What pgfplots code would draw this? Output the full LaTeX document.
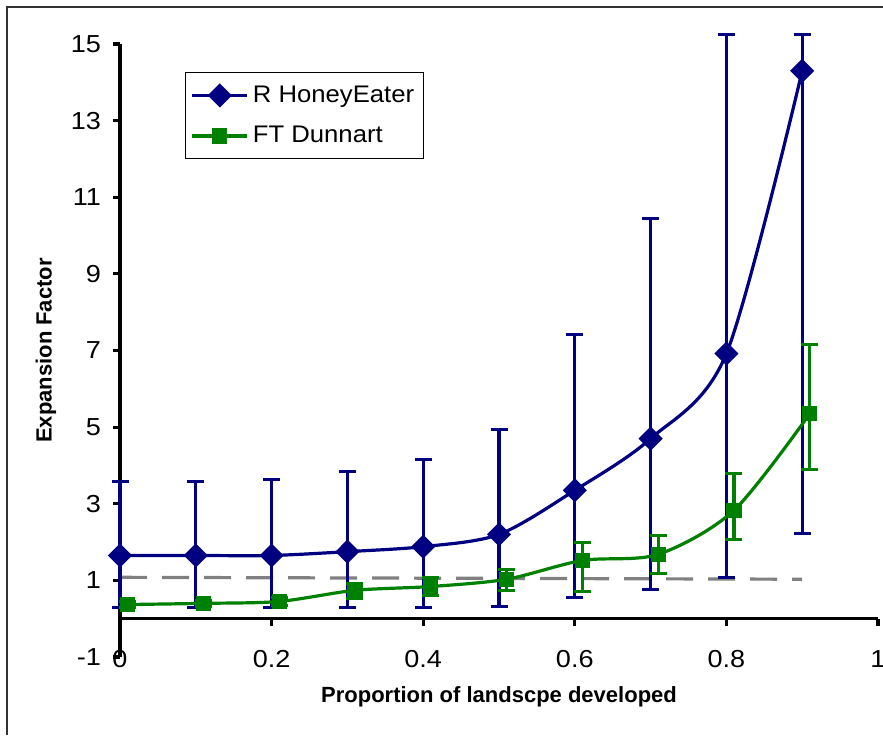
\documentclass[border=0pt]{standalone}
\usepackage{fontspec}
\setmainfont{Liberation Sans}
\newfontfamily\tickfont[FakeStretch=1.1]{Liberation Sans}
\newfontfamily\legfont[FakeStretch=1.07]{Liberation Sans}
\usepackage{pgfplots}
\pgfplotsset{compat=1.18}
\definecolor{navyb}{RGB}{0,0,128}
\definecolor{greenb}{RGB}{0,128,0}
\definecolor{grayd}{RGB}{128,128,128}
\begin{document}
\begin{tikzpicture}
\path[use as bounding box] (0,0) rectangle (441.5pt,367.5pt);
\draw[line width=0.6pt, black!80] (3.5pt,0) -- (3.5pt,364pt) -- (441.5pt,364pt);
\begin{axis}[
  at={(60pt,39pt)}, anchor=south west,
  scale only axis, width=379pt, height=306.5pt,
  xmin=0, xmax=1, ymin=-1, ymax=15,
  axis x line*=middle, axis y line*=left,
  axis line style={-, line width=1.6pt, black},
  xtick={0,0.2,0.4,0.6,0.8,1},
  ytick={-1,1,3,5,7,9,11,13,15},
  xticklabels={0,0.2,0.4,0.6,0.8,1},
  tick align=outside, major tick length=3.5pt,
  every tick/.style={line width=1.6pt, black},
  hide obscured x ticks=false, hide obscured y ticks=false,
  tick label style={font=\tickfont\fontsize{12.3}{14}\selectfont},
  yticklabel style={xshift=-2.5pt},
  /pgf/number format/assume math mode=true,
  xticklabel style={yshift=-9pt},
  xlabel={Proportion of landscpe developed},
  ylabel={Expansion Factor},
  xlabel style={at={(axis description cs:0.5,0)}, anchor=center, yshift=-20pt, font=\fontsize{11}{13}\selectfont\bfseries},
  ylabel style={at={(axis description cs:-0.0976,0.5)}, anchor=center, rotate=0, font=\fontsize{11}{13}\selectfont\bfseries},
  clip=false,
  legend style={at={(axis description cs:0.086,0.954)}, anchor=north west, draw=black, line width=0.5pt,
    font=\legfont\fontsize{12}{13.5}\selectfont, row sep=6.5pt, inner xsep=2.5pt, inner ysep=4.5pt},
  legend cell align=left,
  legend image code/.code={\draw[#1, mark repeat=2, mark phase=2] plot coordinates {(0pt,0pt) (13.75pt,0pt) (27.5pt,0pt)};},
]
\addplot[grayd, line width=1.6pt, dash pattern=on 13.5pt off 7.5pt, forget plot] coordinates {(0,1.08) (0.9,1.03)};
\addplot[navyb, line width=1.6pt, smooth, tension=0.5, mark=diamond*, mark size=4.9pt,
  mark options={solid, xscale=1.33},
  error bars/.cd, y dir=both, y explicit,
  error bar style={line width=1.6pt, navyb},
  error mark options={line width=1.6pt, mark size=4.25pt, navyb, rotate=90}]
  table[x=x, y=y, y error plus=ep, y error minus=em] {
x y ep em
0.0 1.65 1.93 1.35
0.1 1.65 1.93 1.35
0.2 1.65 1.98 1.35
0.3 1.75 2.09 1.45
0.4 1.88 2.28 1.58
0.5 2.20 2.74 1.88
0.6 3.35 4.06 2.79
0.7 4.70 5.74 3.93
0.8 6.92 8.32 5.84
0.9 14.30 0.94 12.07
};
\addlegendentry{R HoneyEater}
\addplot[greenb, line width=1.6pt, smooth, tension=0.5, mark=square*, mark size=3pt,
  mark options={solid},
  error bars/.cd, y dir=both, y explicit,
  error bar style={line width=1.6pt, greenb},
  error mark options={line width=1.6pt, mark size=4.25pt, greenb, rotate=90}]
  table[x=x, y=y, y error plus=ep, y error minus=em] {
x y ep em
0.01 0.37 0.08 0.08
0.11 0.40 0.08 0.08
0.21 0.45 0.10 0.10
0.31 0.74 0.18 0.21
0.41 0.84 0.24 0.23
0.51 1.03 0.26 0.29
0.61 1.52 0.47 0.81
0.71 1.68 0.49 0.50
0.81 2.83 0.96 0.76
0.91 5.35 1.80 1.46
};
\addlegendentry{FT Dunnart}
\end{axis}
\end{tikzpicture}
\end{document}
